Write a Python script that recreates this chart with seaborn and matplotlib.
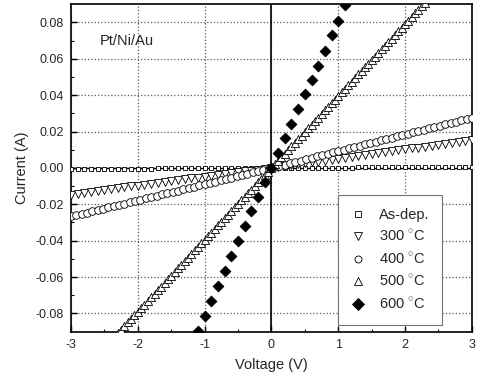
import numpy as np
import pandas as pd
import matplotlib
matplotlib.use("Agg")
import matplotlib.pyplot as plt
import seaborn as sns
from matplotlib.lines import Line2D

# ---------------- data ----------------
v_01 = [-3.0, -2.9, -2.8, -2.7, -2.6, -2.5, -2.4, -2.3, -2.2, -2.1,
        -2.0, -1.9, -1.8, -1.7, -1.6, -1.5, -1.4, -1.3, -1.2, -1.1,
        -1.0, -0.9, -0.8, -0.7, -0.6, -0.5, -0.4, -0.3, -0.2, -0.1,
        0.0, 0.1, 0.2, 0.3, 0.4, 0.5, 0.6, 0.7, 0.8, 0.9,
        1.0, 1.1, 1.2, 1.3, 1.4, 1.5, 1.6, 1.7, 1.8, 1.9,
        2.0, 2.1, 2.2, 2.3, 2.4, 2.5, 2.6, 2.7, 2.8, 2.9, 3.0]

i_asdep = [-0.0006, -0.0006, -0.0006, -0.0005, -0.0005, -0.0005, -0.0005, -0.0005, -0.0004, -0.0004,
           -0.0004, -0.0004, -0.0004, -0.0003, -0.0003, -0.0003, -0.0003, -0.0003, -0.0002, -0.0002,
           -0.0002, -0.0002, -0.0002, -0.0001, -0.0001, -0.0001, -0.0001, -0.0001, 0.0000, 0.0000,
           0.0000, 0.0000, 0.0000, 0.0001, 0.0001, 0.0001, 0.0001, 0.0001, 0.0002, 0.0002,
           0.0002, 0.0002, 0.0002, 0.0003, 0.0003, 0.0003, 0.0003, 0.0003, 0.0004, 0.0004,
           0.0004, 0.0004, 0.0004, 0.0005, 0.0005, 0.0005, 0.0005, 0.0005, 0.0006, 0.0006, 0.0006]

i_300 = [-0.0147, -0.0142, -0.0137, -0.0132, -0.0127, -0.0122, -0.0117, -0.0112, -0.0107, -0.0102,
         -0.0098, -0.0093, -0.0088, -0.0083, -0.0078, -0.0073, -0.0068, -0.0063, -0.0058, -0.0053,
         -0.0049, -0.0044, -0.0039, -0.0034, -0.0029, -0.0024, -0.0019, -0.0015, -0.0010, -0.0005,
         0.0000, 0.0005, 0.0010, 0.0015, 0.0020, 0.0025, 0.0030, 0.0035, 0.0040, 0.0045,
         0.0051, 0.0056, 0.0061, 0.0066, 0.0071, 0.0076, 0.0081, 0.0086, 0.0091, 0.0097,
         0.0102, 0.0107, 0.0112, 0.0117, 0.0122, 0.0127, 0.0132, 0.0137, 0.0143, 0.0148, 0.0153]

v_400 = [-3.00, -2.92, -2.84, -2.76, -2.68, -2.60, -2.52, -2.44, -2.36, -2.28,
         -2.20, -2.12, -2.04, -1.96, -1.88, -1.80, -1.72, -1.64, -1.56, -1.48,
         -1.40, -1.32, -1.24, -1.16, -1.08, -1.00, -0.92, -0.84, -0.76, -0.68,
         -0.60, -0.52, -0.44, -0.36, -0.28, -0.20, -0.12, -0.04,
         0.04, 0.12, 0.20, 0.28, 0.36, 0.44, 0.52, 0.60, 0.68, 0.76,
         0.84, 0.92, 1.00, 1.08, 1.16, 1.24, 1.32, 1.40, 1.48, 1.56,
         1.64, 1.72, 1.80, 1.88, 1.96, 2.04, 2.12, 2.20, 2.28, 2.36,
         2.44, 2.52, 2.60, 2.68, 2.76, 2.84, 2.92, 3.00]
i_400 = [-0.0267, -0.0260, -0.0253, -0.0246, -0.0239, -0.0231, -0.0224, -0.0217, -0.0210, -0.0203,
         -0.0196, -0.0189, -0.0182, -0.0174, -0.0167, -0.0160, -0.0153, -0.0146, -0.0139, -0.0132,
         -0.0125, -0.0117, -0.0110, -0.0103, -0.0096, -0.0089, -0.0082, -0.0075, -0.0068, -0.0061,
         -0.0053, -0.0046, -0.0039, -0.0032, -0.0025, -0.0018, -0.0011, -0.0004,
         0.0004, 0.0011, 0.0018, 0.0026, 0.0033, 0.0040, 0.0048, 0.0055, 0.0063, 0.0070,
         0.0077, 0.0085, 0.0092, 0.0099, 0.0107, 0.0114, 0.0121, 0.0129, 0.0136, 0.0144,
         0.0151, 0.0158, 0.0166, 0.0173, 0.0180, 0.0188, 0.0195, 0.0202, 0.0210, 0.0217,
         0.0224, 0.0232, 0.0239, 0.0247, 0.0254, 0.0261, 0.0269, 0.0276]

v_500 = [-2.30, -2.25, -2.20, -2.15, -2.10, -2.05, -2.00, -1.95, -1.90, -1.85,
         -1.80, -1.75, -1.70, -1.65, -1.60, -1.55, -1.50, -1.45, -1.40, -1.35,
         -1.30, -1.25, -1.20, -1.15, -1.10, -1.05, -1.00, -0.95, -0.90, -0.85,
         -0.80, -0.75, -0.70, -0.65, -0.60, -0.55, -0.50, -0.45, -0.40, -0.35,
         -0.30, -0.25, -0.20, -0.15, -0.10, -0.05, 0.00,
         0.05, 0.10, 0.15, 0.20, 0.25, 0.30, 0.35, 0.40, 0.45, 0.50,
         0.55, 0.60, 0.65, 0.70, 0.75, 0.80, 0.85, 0.90, 0.95, 1.00,
         1.05, 1.10, 1.15, 1.20, 1.25, 1.30, 1.35, 1.40, 1.45, 1.50,
         1.55, 1.60, 1.65, 1.70, 1.75, 1.80, 1.85, 1.90, 1.95, 2.00,
         2.05, 2.10, 2.15, 2.20, 2.25, 2.30]
i_500 = [-0.0909, -0.0889, -0.0869, -0.0849, -0.0830, -0.0810, -0.0790, -0.0770, -0.0751, -0.0731,
         -0.0711, -0.0691, -0.0672, -0.0652, -0.0632, -0.0612, -0.0593, -0.0573, -0.0553, -0.0533,
         -0.0514, -0.0494, -0.0474, -0.0454, -0.0435, -0.0415, -0.0395, -0.0375, -0.0356, -0.0336,
         -0.0316, -0.0296, -0.0277, -0.0257, -0.0237, -0.0217, -0.0198, -0.0178, -0.0158, -0.0138,
         -0.0119, -0.0099, -0.0079, -0.0059, -0.0040, -0.0020, 0.0000,
         0.0020, 0.0040, 0.0059, 0.0079, 0.0099, 0.0119, 0.0138, 0.0158, 0.0178, 0.0198,
         0.0217, 0.0237, 0.0257, 0.0277, 0.0296, 0.0316, 0.0336, 0.0356, 0.0375, 0.0395,
         0.0415, 0.0435, 0.0454, 0.0474, 0.0494, 0.0514, 0.0533, 0.0553, 0.0573, 0.0593,
         0.0612, 0.0632, 0.0652, 0.0672, 0.0691, 0.0711, 0.0731, 0.0751, 0.0770, 0.0790,
         0.0810, 0.0830, 0.0849, 0.0869, 0.0889, 0.0909]

v_600 = [-1.1, -1.0, -0.9, -0.8, -0.7, -0.6, -0.5, -0.4, -0.3, -0.2, -0.1,
         0.0, 0.1, 0.2, 0.3, 0.4, 0.5, 0.6, 0.7, 0.8, 0.9, 1.0, 1.1]
i_600 = [-0.0897, -0.0815, -0.0730, -0.0650, -0.0565, -0.0482, -0.0400, -0.0318, -0.0239, -0.0160, -0.0080,
         0.0000, 0.0080, 0.0163, 0.0240, 0.0322, 0.0404, 0.0484, 0.0560, 0.0645, 0.0728, 0.0810, 0.0895]

labels = ["As-dep.", "300 $^{\\circ}$C", "400 $^{\\circ}$C", "500 $^{\\circ}$C", "600 $^{\\circ}$C"]
x_ticks = [-3, -2, -1, 0, 1, 2, 3]
y_ticks = [-0.08, -0.06, -0.04, -0.02, 0.00, 0.02, 0.04, 0.06, 0.08]

# ---------------- plotting ----------------
sns.set_theme(style="ticks")
plt.rcParams["font.family"] = ["Liberation Sans", "DejaVu Sans"]
plt.rcParams["mathtext.fontset"] = "custom"
plt.rcParams["mathtext.rm"] = "Liberation Sans"

fig = plt.figure(figsize=(4.83, 3.79), dpi=100)
ax = fig.add_axes([0.147, 0.125, 0.830, 0.864])

series = [
    (v_01, i_asdep, "s", 12, "white", 0.6),
    (v_01, i_300, "v", 32, "white", 0.6),
    (v_400, i_400, "o", 30, "white", 0.6),
    (v_500, i_500, "^", 34, "white", 0.6),
    (v_600, i_600, "D", 30, "black", 0.6),
]
for (vx, iy, mk, sz, fc, lw), lab in zip(series, labels):
    df = pd.DataFrame({"V": vx, "I": iy})
    sns.scatterplot(data=df, x="V", y="I", marker=mk, s=sz, facecolor=fc,
                    edgecolor="black", linewidth=lw, ax=ax, label=lab,
                    legend=False, zorder=3, clip_on=True)

ax.axhline(0, color="black", lw=1.0, zorder=2)
ax.axvline(0, color="black", lw=1.2, zorder=2)

ax.set_xlim(-3, 3)
ax.set_ylim(-0.09, 0.09)
ax.set_xticks(x_ticks)
ax.set_xticklabels([str(t) for t in x_ticks])
ax.set_yticks(y_ticks)
ax.set_yticklabels([f"{t:.2f}" for t in y_ticks])
ax.set_xticks([-2.5, -1.5, -0.5, 0.5, 1.5, 2.5], minor=True)
ax.set_yticks([-0.07, -0.05, -0.03, -0.01, 0.01, 0.03, 0.05, 0.07], minor=True)
ax.tick_params(which="both", direction="in", color="black", labelsize=9, pad=5)
ax.tick_params(which="major", length=4, width=1)
ax.tick_params(which="minor", length=2.5, width=0.8)
ax.grid(True, which="major", linestyle=":", color="0.35", linewidth=0.9)
ax.set_axisbelow(True)
for sp in ax.spines.values():
    sp.set_color("black")
    sp.set_linewidth(1.2)

ax.set_xlabel("Voltage (V)", fontsize=10.5, labelpad=5)
ax.set_ylabel("Current (A)", fontsize=10.5, labelpad=5)
ax.text(0.072, 0.875, "Pt/Ni/Au", transform=ax.transAxes, fontsize=10.5)

handles = [
    Line2D([], [], ls="none", marker="s", ms=4, mfc="white", mec="black", mew=0.6),
    Line2D([], [], ls="none", marker="v", ms=5.5, mfc="white", mec="black", mew=0.6),
    Line2D([], [], ls="none", marker="o", ms=5, mfc="white", mec="black", mew=0.6),
    Line2D([], [], ls="none", marker="^", ms=5.5, mfc="white", mec="black", mew=0.6),
    Line2D([], [], ls="none", marker="D", ms=6, mfc="black", mec="black", mew=0.6),
]
leg = ax.legend(handles, labels, loc="upper left", bbox_to_anchor=(0.666, 0.418),
                fontsize=10.5, frameon=True, fancybox=False, framealpha=1,
                edgecolor="0.45", labelspacing=0.5, handlelength=1.0,
                handletextpad=0.9, borderpad=0.9, borderaxespad=0)
leg.get_frame().set_linewidth(0.8)
leg.set_zorder(5)

fig.savefig("out.png", dpi=100)
